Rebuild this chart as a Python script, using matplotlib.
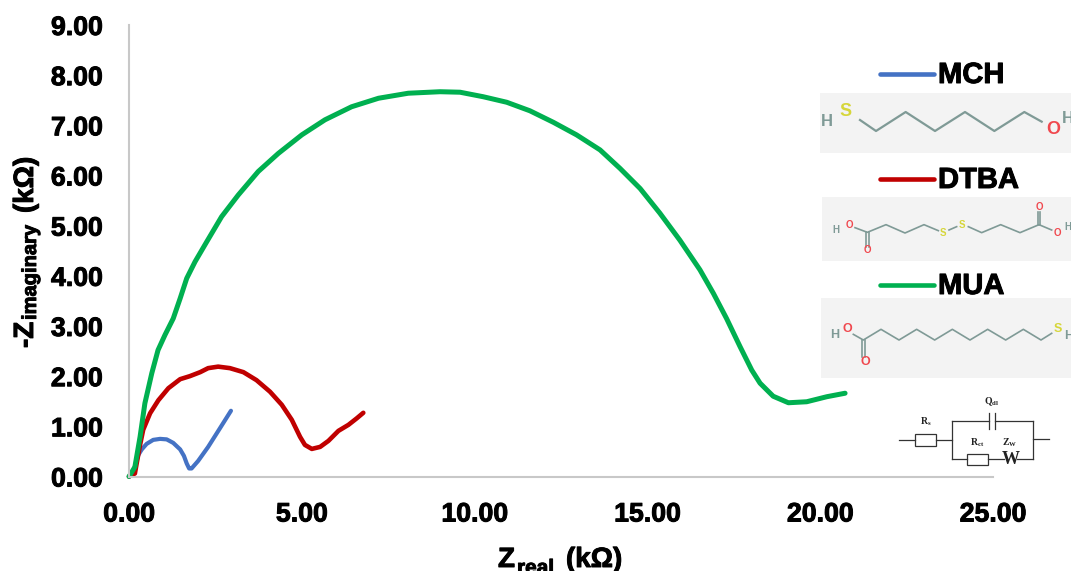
import matplotlib
matplotlib.use('Agg')
import matplotlib.pyplot as plt
import matplotlib.patheffects as pe
from matplotlib.patches import Rectangle

plt.rcParams['font.family'] = ['Liberation Sans', 'DejaVu Sans']
plt.rcParams['mathtext.default'] = 'regular'

W, H = 1071, 571

# series
mch_x = [0, 0.1, 0.17, 0.27, 0.37, 0.51, 0.70, 0.90, 1.09, 1.28, 1.48, 1.59, 1.67, 1.74, 1.81, 2.0, 2.29, 2.63, 2.95]
mch_y = [0, 0.03, 0.2, 0.43, 0.54, 0.65, 0.73, 0.75, 0.74, 0.67, 0.54, 0.41, 0.26, 0.16, 0.16, 0.31, 0.59, 0.96, 1.31]
dtba_x = [0, 0.17, 0.24, 0.32, 0.41, 0.61, 0.85, 1.14, 1.48, 1.76, 2.06, 2.29, 2.58, 2.92, 3.31, 3.69, 4.08, 4.42, 4.71, 4.95, 5.09, 5.29, 5.53, 5.77, 6.06, 6.35, 6.59, 6.78]
dtba_y = [0, 0.06, 0.33, 0.63, 0.93, 1.26, 1.52, 1.76, 1.94, 2.0, 2.08, 2.16, 2.19, 2.16, 2.08, 1.92, 1.69, 1.43, 1.13, 0.79, 0.63, 0.55, 0.59, 0.71, 0.91, 1.03, 1.16, 1.27]
mua_x = [0, 0.03, 0.17, 0.32, 0.46, 0.66, 0.84, 1.04, 1.28, 1.48, 1.67, 1.91, 2.25, 2.68, 3.16, 3.74, 4.32, 5.0, 5.67, 6.44, 7.22, 8.08, 9.0, 9.58, 10.25, 10.93, 11.6, 12.28, 12.95, 13.63, 14.21, 14.79, 15.36, 15.94, 16.52, 16.91, 17.29, 17.68, 18.02, 18.26, 18.64, 19.08, 19.61, 20.19, 20.72]
mua_y = [0, 0.03, 0.19, 0.79, 1.46, 2.06, 2.52, 2.82, 3.15, 3.55, 3.95, 4.28, 4.68, 5.18, 5.61, 6.08, 6.44, 6.81, 7.11, 7.37, 7.54, 7.64, 7.67, 7.66, 7.57, 7.46, 7.29, 7.06, 6.81, 6.51, 6.14, 5.74, 5.25, 4.71, 4.12, 3.65, 3.15, 2.59, 2.12, 1.86, 1.6, 1.47, 1.49, 1.59, 1.66]

x_ticks = [0, 5, 10, 15, 20, 25]
y_ticks = [0, 1, 2, 3, 4, 5, 6, 7, 8, 9]

BLUE = '#4472c4'
RED = '#c00000'
GREEN = '#00b050'
BOND = '#7f9a96'
# the original text is heavier than plain bold
HEAVY = [pe.withStroke(linewidth=0.7, foreground='black')]

fig = plt.figure(figsize=(W / 100, H / 100), dpi=100)
ax = fig.add_axes([129 / W, 1 - 476.5 / H, 864 / W, 451.5 / H])

ax.plot(mch_x, mch_y, color=BLUE, lw=3, solid_joinstyle='round', solid_capstyle='round', clip_on=False)
ax.plot(dtba_x, dtba_y, color=RED, lw=3.3, solid_joinstyle='round', solid_capstyle='round', clip_on=False)
ax.plot(mua_x, mua_y, color=GREEN, lw=3.6, solid_joinstyle='round', solid_capstyle='round', clip_on=False)

ax.set_xlim(0, 25)
ax.set_ylim(0, 9)
ax.set_xticks(x_ticks)
ax.set_yticks(y_ticks)
ax.set_xticklabels(['%.2f' % v for v in x_ticks])
ax.set_yticklabels(['%.2f' % v for v in y_ticks])
ax.tick_params(length=0, labelsize=19.2, pad=18)
ax.tick_params(axis='y', pad=19)
for lab in ax.get_xticklabels() + ax.get_yticklabels():
    lab.set_fontweight('bold')
    lab.set_path_effects(HEAVY)
for s in ['top', 'right']:
    ax.spines[s].set_visible(False)
for s in ['left', 'bottom']:
    ax.spines[s].set_color('#c8c8c8')
    ax.spines[s].set_linewidth(1.5)

# overlay in pixel coordinates for legend, molecule drawings and circuit
ov = fig.add_axes([0, 0, 1, 1], facecolor='none')
ov.set_xlim(0, W)
ov.set_ylim(H, 0)
ov.axis('off')


def bonds(pts, ox, oy, color=BOND, lw=1.2):
    # pts are in 3x zoomed crop coordinates
    ov.plot([ox + p[0] / 3 for p in pts], [oy + p[1] / 3 for p in pts], color=color, lw=lw,
            solid_joinstyle='round')


def atom(x, y, s, ox, oy, color, size):
    ov.text(ox + x / 3, oy + y / 3, s, color=color, fontsize=size, fontweight='bold',
            ha='center', va='center', clip_on=True)


def title_part(x, y, s, size, rot=0):
    ov.text(x, y, s, fontsize=size, fontweight='bold', rotation=rot, rotation_mode='anchor',
            ha='left', va='baseline', path_effects=HEAVY)


# axis titles
title_part(498, 567, 'Z', 20)
title_part(517, 574, 'real', 15)
title_part(566, 567, '(kΩ)', 20)
title_part(33, 348, '-Z', 20, rot=90)
title_part(36, 320, 'imaginary', 14.5, rot=90)
title_part(33, 213, '(kΩ)', 20, rot=90)

# legend
for y, c, name in [(74, BLUE, 'MCH'), (179, RED, 'DTBA'), (285, GREEN, 'MUA')]:
    ov.plot([880, 934], [y, y], color=c, lw=3.3, solid_capstyle='round')
    ov.text(938, y + 1, name, fontsize=21, fontweight='bold', va='center', ha='left', path_effects=HEAVY)

# grey panels behind the molecules
for x0, y0, y1 in [(820, 93, 153), (822, 197, 261), (821, 298, 378)]:
    ov.add_patch(Rectangle((x0, y0), W - x0, y1 - y0, fc='#f3f3f3', ec='none'))

YEL = '#d6d63a'
OXY = '#f0484e'

# MCH
ox, oy = 810, 50
bonds([(150, 210), (198, 243), (287, 186), (375, 243), (465, 186), (553, 243), (643, 186), (695, 215)], ox, oy, lw=1.6)
atom(50, 215, 'H', ox, oy, BOND, 12)
atom(108, 183, 'S', ox, oy, YEL, 13)
atom(730, 238, 'O', ox, oy, OXY, 13)
atom(775, 205, 'H', ox, oy, BOND, 12)

# DTBA
bonds([(135, 533), (172, 547), (228, 524), (285, 549), (342, 524), (385, 542)], ox, oy)
bonds([(417, 540), (440, 530)], ox, oy)
bonds([(475, 530), (515, 548), (572, 524), (630, 548), (687, 524), (725, 540)], ox, oy)
bonds([(168, 547), (168, 590)], ox, oy)
bonds([(176, 547), (176, 590)], ox, oy)
bonds([(683, 524), (683, 485)], ox, oy)
bonds([(691, 524), (691, 485)], ox, oy)
for x, y, s, c in [(78, 540, 'H', BOND), (118, 525, 'O', OXY), (172, 600, 'O', OXY), (400, 548, 'S', YEL),
                   (457, 524, 'S', YEL), (689, 470, 'O', OXY), (743, 548, 'O', OXY), (775, 532, 'H', BOND)]:
    atom(x, y, s, ox, oy, c, 7)

# MUA
ox, oy = 810, 270
bonds([(130, 193), (160, 210), (213, 178), (267, 210), (320, 178), (374, 210), (427, 178), (480, 210),
       (533, 178), (587, 210), (640, 178), (693, 210), (725, 190)], ox, oy)
bonds([(156, 210), (156, 262)], ox, oy)
bonds([(164, 210), (164, 262)], ox, oy)
for x, y, s, c in [(75, 195, 'H', BOND), (112, 177, 'O', OXY), (165, 275, 'O', OXY), (744, 177, 'S', YEL),
                   (775, 197, 'H', BOND)]:
    atom(x, y, s, ox, oy, c, 9)

# equivalent circuit
CK = '#333333'
for seg in [[(268, 510), (315, 510)], [(379, 510), (425, 510)], [(425, 453), (425, 568)],
            [(425, 453), (537, 453)], [(556, 453), (668, 453)], [(668, 453), (668, 568)],
            [(668, 506), (716, 506)], [(425, 568), (472, 568)], [(535, 568), (582, 568)],
            [(622, 568), (668, 568)], [(537, 430), (537, 478)], [(556, 430), (556, 478)]]:
    bonds(seg, ox, oy, color=CK, lw=0.9)
for x0, y0, x1, y1 in [(315, 493, 379, 527), (472, 551, 535, 585)]:
    ov.add_patch(Rectangle((ox + x0 / 3, oy + y0 / 3), (x1 - x0) / 3, (y1 - y0) / 3, fc='white', ec=CK, lw=0.9))
for x, y, s, size in [(347, 455, 'R$_s$', 7), (546, 395, 'Q$_{dl}$', 7), (503, 518, 'R$_{ct}$', 7),
                      (600, 518, 'Z$_W$', 7), (602, 570, 'W', 13)]:
    ov.text(ox + x / 3, oy + y / 3, s, fontsize=size, family='Liberation Serif', fontweight='bold',
            ha='center', va='center', color='#222222')

fig.savefig('out.png', dpi=100)
